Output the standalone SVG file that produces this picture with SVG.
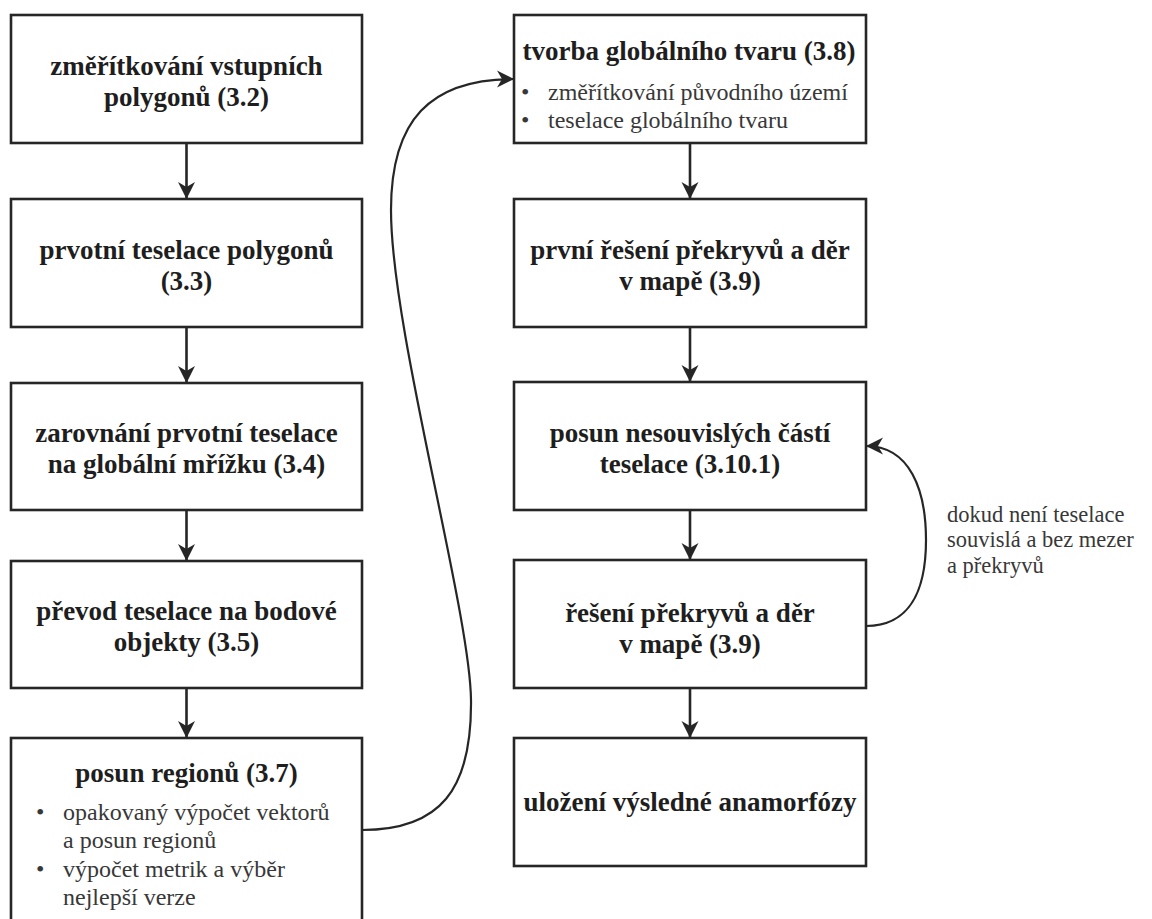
<svg xmlns="http://www.w3.org/2000/svg" width="1152" height="919" viewBox="0 0 1152 919">
  <defs>
    <marker id="head" markerUnits="userSpaceOnUse" markerWidth="20" markerHeight="20" refX="17" refY="8.5" orient="auto" overflow="visible">
      <path d="M17,8.5 L0,0 L5,8.5 L0,17 Z" fill="#262626"/>
    </marker>
    <style>
      .box { fill: #ffffff; stroke: #262626; stroke-width: 2.6; }
      text { font-family: 'Liberation Serif', 'Times New Roman', serif; }
      .ttl { font-weight: bold; font-size: 27px; fill: #1e1e1e; text-anchor: middle; }
      .itm { font-size: 24px; fill: #383838; }
      .dot { font-size: 24px; fill: #383838; }
      .note { font-size: 22.5px; fill: #383838; }
      .edge { fill: none; stroke: #262626; stroke-width: 2.6; marker-end: url(#head); }
      .curve { fill: none; stroke: #262626; stroke-width: 2.2; marker-end: url(#head); }
    </style>
  </defs>
  <rect width="1152" height="919" fill="#ffffff"/>

  <!-- left column -->
  <g id="scale-input">
    <rect class="box" x="11" y="15" width="351" height="128"/>
    <text class="ttl" x="186.5" y="75">změřítkování vstupních</text>
    <text class="ttl" x="186.5" y="106">polygonů (3.2)</text>
  </g>
  <g id="initial-tessellation">
    <rect class="box" x="11" y="199" width="351" height="128"/>
    <text class="ttl" x="186.5" y="259">prvotní teselace polygonů</text>
    <text class="ttl" x="186.5" y="290">(3.3)</text>
  </g>
  <g id="grid-alignment">
    <rect class="box" x="11" y="383" width="351" height="127"/>
    <text class="ttl" x="186.5" y="442">zarovnání prvotní teselace</text>
    <text class="ttl" x="186.5" y="473">na globální mřížku (3.4)</text>
  </g>
  <g id="to-points">
    <rect class="box" x="11" y="561" width="351" height="127"/>
    <text class="ttl" x="186.5" y="620">převod teselace na bodové</text>
    <text class="ttl" x="186.5" y="651">objekty (3.5)</text>
  </g>
  <g id="region-shift">
    <rect class="box" x="11" y="738" width="351" height="200"/>
    <text class="ttl" x="186.5" y="782">posun regionů (3.7)</text>
    <text class="dot" x="36" y="820">•</text>
    <text class="itm" x="63" y="820">opakovaný výpočet vektorů</text>
    <text class="itm" x="63" y="848">a posun regionů</text>
    <text class="dot" x="36" y="877">•</text>
    <text class="itm" x="63" y="877">výpočet metrik a výběr</text>
    <text class="itm" x="63" y="905">nejlepší verze</text>
  </g>

  <!-- right column -->
  <g id="global-shape">
    <rect class="box" x="514" y="15" width="352" height="128"/>
    <text class="ttl" x="689" y="60">tvorba globálního tvaru (3.8)</text>
    <text class="dot" x="521" y="100">•</text>
    <text class="itm" x="548" y="100">změřítkování původního území</text>
    <text class="dot" x="521" y="128">•</text>
    <text class="itm" x="548" y="128">teselace globálního tvaru</text>
  </g>
  <g id="first-overlap-fix">
    <rect class="box" x="514" y="199" width="352" height="128"/>
    <text class="ttl" x="690" y="259">první řešení překryvů a děr</text>
    <text class="ttl" x="690" y="290">v mapě (3.9)</text>
  </g>
  <g id="shift-disjoint">
    <rect class="box" x="514" y="382" width="352" height="128"/>
    <text class="ttl" x="690" y="442">posun nesouvislých částí</text>
    <text class="ttl" x="690" y="473">teselace (3.10.1)</text>
  </g>
  <g id="overlap-fix">
    <rect class="box" x="514" y="560" width="352" height="128"/>
    <text class="ttl" x="690" y="622">řešení překryvů a děr</text>
    <text class="ttl" x="690" y="653">v mapě (3.9)</text>
  </g>
  <g id="save-result">
    <rect class="box" x="514" y="738" width="352" height="128"/>
    <text class="ttl" x="690" y="811">uložení výsledné anamorfózy</text>
  </g>

  <!-- loop condition -->
  <g id="loop-note">
    <text class="note" x="947" y="522">dokud není teselace</text>
    <text class="note" x="947" y="547">souvislá a bez mezer</text>
    <text class="note" x="947" y="573">a překryvů</text>
  </g>

  <g id="connectors">
    <line class="edge" x1="186.5" y1="143" x2="186.5" y2="199"/>
    <line class="edge" x1="186.5" y1="327" x2="186.5" y2="383"/>
    <line class="edge" x1="186.5" y1="510" x2="186.5" y2="561"/>
    <line class="edge" x1="186.5" y1="688" x2="186.5" y2="738"/>
    <line class="edge" x1="690" y1="143" x2="690" y2="199"/>
    <line class="edge" x1="690" y1="327" x2="690" y2="382"/>
    <line class="edge" x1="690" y1="510" x2="690" y2="560"/>
    <line class="edge" x1="690" y1="688" x2="690" y2="738"/>
    <path class="curve" d="M362,830 C440,830 472,790 471,700 C470,610 391,330 391,210 C391,120 430,79 514,79"/>
    <path class="curve" d="M866,626 C910,626 926,590 926,540 C926,490 910,446 866,446"/>
  </g>
</svg>
